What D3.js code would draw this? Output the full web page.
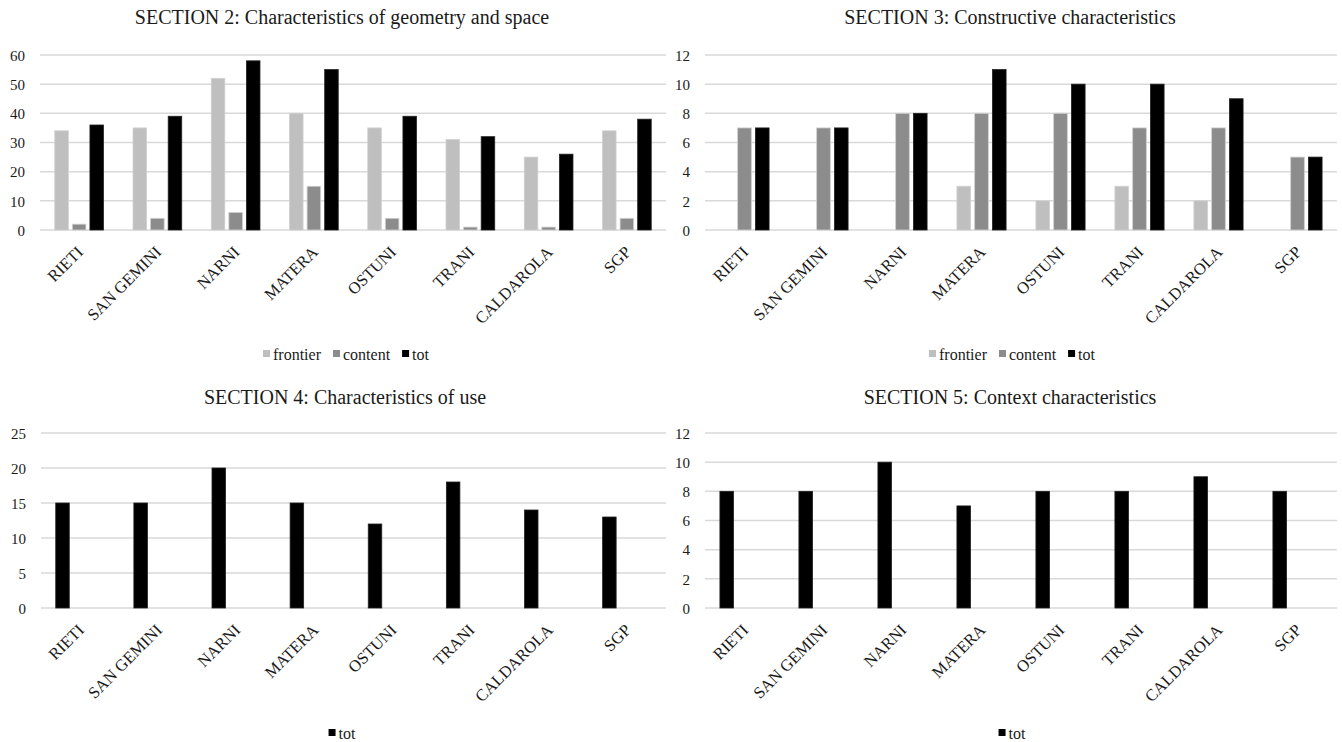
<!DOCTYPE html>
<html>
<head>
<meta charset="utf-8">
<script src="https://cdn.jsdelivr.net/npm/d3@7"></script>
<style>
  html, body { margin: 0; padding: 0; background: #fff; }
  svg { display: block; }
  text { font-family: "Liberation Serif", "Times New Roman", serif; fill: #1a1a1a; }
</style>
</head>
<body>
<svg id="chart" width="1342" height="742"></svg>
<script>
const categories = ["RIETI", "SAN GEMINI", "NARNI", "MATERA", "OSTUNI", "TRANI", "CALDAROLA", "SGP"];

const s2Frontier = [34, 35, 52, 40, 35, 31, 25, 34];
const s2Content  = [2, 4, 6, 15, 4, 1, 1, 4];
const s2Tot      = [36, 39, 58, 55, 39, 32, 26, 38];
const s2Ticks    = [0, 10, 20, 30, 40, 50, 60];

const s3Frontier = [0, 0, 0, 3, 2, 3, 2, 0];
const s3Content  = [7, 7, 8, 8, 8, 7, 7, 5];
const s3Tot      = [7, 7, 8, 11, 10, 10, 9, 5];
const s3Ticks    = [0, 2, 4, 6, 8, 10, 12];

const s4Tot   = [15, 15, 20, 15, 12, 18, 14, 13];
const s4Ticks = [0, 5, 10, 15, 20, 25];

const s5Tot   = [8, 8, 10, 7, 8, 8, 9, 8];
const s5Ticks = [0, 2, 4, 6, 8, 10, 12];

const titles = [
  "SECTION 2: Characteristics of geometry and space",
  "SECTION 3: Constructive characteristics",
  "SECTION 4: Characteristics of use",
  "SECTION 5: Context characteristics"
];

const colors = { frontier: "#bfbfbf", content: "#8c8c8c", tot: "#000000" };

const panels = [
  { title: titles[0], ticks: s2Ticks, x0: 40, x1: 666, y0: 55, y1: 230, titleX: 342, titleY: 24, legendY: 354, legendX: 346,
    series: [{ name: "frontier", values: s2Frontier, slot: 0 }, { name: "content", values: s2Content, slot: 1 }, { name: "tot", values: s2Tot, slot: 2 }] },
  { title: titles[1], ticks: s3Ticks, x0: 705, x1: 1337, y0: 55, y1: 230, titleX: 1010, titleY: 24, legendY: 354, legendX: 1012,
    series: [{ name: "frontier", values: s3Frontier, slot: 0 }, { name: "content", values: s3Content, slot: 1 }, { name: "tot", values: s3Tot, slot: 2 }] },
  { title: titles[2], ticks: s4Ticks, x0: 41, x1: 666, y0: 433, y1: 608, titleX: 345, titleY: 404, legendY: 733, legendX: 342,
    series: [{ name: "tot", values: s4Tot, slot: 0 }] },
  { title: titles[3], ticks: s5Ticks, x0: 705, x1: 1337, y0: 433, y1: 608, titleX: 1010, titleY: 404, legendY: 733, legendX: 1012,
    series: [{ name: "tot", values: s5Tot, slot: 0 }] }
];

const svg = d3.select("#chart");

panels.forEach(p => {
  const g = svg.append("g");
  const x = d3.scaleBand().domain(categories).range([p.x0, p.x1]).padding(0);
  const y = d3.scaleLinear().domain([0, d3.max(p.ticks)]).range([p.y1, p.y0]);
  const inner = d3.scaleBand().domain([0, 1, 2]).range([0, x.bandwidth()])
    .paddingInner(0.23).paddingOuter(0.84);

  // gridlines
  g.append("g").selectAll("line").data(p.ticks).join("line")
    .attr("x1", p.x0).attr("x2", p.x1)
    .attr("y1", d => y(d)).attr("y2", d => y(d))
    .attr("stroke", "#d9d9d9").attr("stroke-width", 1.5);

  // y axis labels
  const yAxis = d3.axisLeft(y).tickValues(p.ticks).tickSize(0).tickPadding(0).tickFormat(d3.format("d"));
  const ya = g.append("g").attr("transform", `translate(${p.x0 - 15},0)`).call(yAxis);
  ya.select(".domain").remove();
  ya.selectAll("text").attr("font-size", 15).attr("font-family", "Liberation Serif").attr("fill", "#1a1a1a").attr("dy", "0.35em");

  // bars
  p.series.forEach(s => {
    g.append("g").selectAll("rect").data(s.values.map((v, i) => ({ v, c: categories[i] }))).join("rect")
      .attr("x", d => x(d.c) + inner(s.slot))
      .attr("width", inner.bandwidth())
      .attr("y", d => y(d.v))
      .attr("height", d => y(0) - y(d.v))
      .attr("fill", colors[s.name])
      .attr("stroke", d => d.v > 0 ? (s.name === "tot" ? "#222" : "#d0d0d0") : "none")
      .attr("stroke-width", 0.8);
  });

  // x axis labels
  const xAxis = d3.axisBottom(x).tickSize(0).tickPadding(0);
  const xa = g.append("g").attr("transform", `translate(0,${p.y1})`).call(xAxis);
  xa.select(".domain").remove();
  xa.selectAll("text")
    .attr("font-size", 16.5).attr("font-family", "Liberation Serif").attr("fill", "#1a1a1a")
    .attr("text-anchor", "end")
    .attr("dy", null).attr("y", null)
    .attr("transform", "translate(5,23) rotate(-45)");

  // title
  g.append("text").attr("x", p.titleX).attr("y", p.titleY)
    .attr("text-anchor", "middle").attr("font-size", 20).text(p.title);

  // legend
  const lg = g.append("g");
  let cx = 0;
  const items = p.series.map(s => s.name);
  items.forEach(name => {
    const ig = lg.append("g").attr("transform", `translate(${cx},0)`);
    ig.append("rect").attr("x", 0).attr("y", -4).attr("width", 7).attr("height", 7).attr("fill", colors[name]);
    const t = ig.append("text").attr("x", 10).attr("y", 0).attr("dy", "0.35em").attr("font-size", 16).text(name);
    const w = t.node().getComputedTextLength();
    cx += 10 + w + 12;
  });
  const totalW = cx - 12;
  lg.attr("transform", `translate(${p.legendX - totalW / 2},${p.legendY})`);
});
</script>
</body>
</html>
